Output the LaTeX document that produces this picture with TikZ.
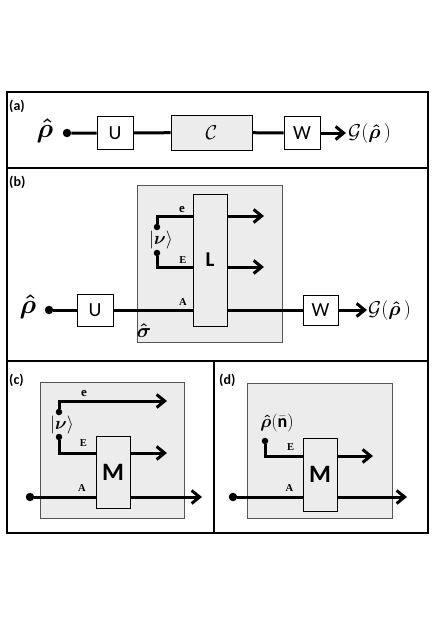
\documentclass[tikz,border=0pt]{standalone}
\usepackage{fix-cm}
\usepackage{amsmath}
\usepackage{fontspec}
\setmainfont{Carlito}
\newfontfamily\serifbf{Liberation Serif}
\usetikzlibrary{positioning,arrows.meta}
\definecolor{boxGray}{RGB}{236,236,236}
\definecolor{edgeGray}{RGB}{85,85,85}

\begin{document}
\begin{tikzpicture}[x=1pt,y=-1pt]
  	\tikzstyle{gatebox} = [draw,line width=0.9pt,fill=white,inner sep=0pt,minimum width=36pt,minimum height=33pt,font=\fontsize{20}{20}\selectfont]
  	\tikzstyle{chanbox} = [draw=edgeGray,line width=0.8pt,fill=boxGray,inner sep=0pt]
  	\tikzstyle{tallbox} = [gatebox,fill=boxGray,minimum width=34pt,font=\bfseries\fontsize{25}{25}\selectfont]
  	\tikzstyle{wireline} = [line width=3pt]
  	\tikzstyle{srcdot} = [circle,fill=black,inner sep=0pt,minimum size=8.5pt]
  	\tikzstyle{nudot} = [srcdot,minimum size=6.5pt]
  	\tikzstyle{lbl} = [inner sep=0pt,font=\serifbf\bfseries\fontsize{10.5}{10.5}\selectfont]
  	\tikzstyle{panellbl} = [anchor=west,inner sep=0pt,font=\bfseries\fontsize{14}{14}\selectfont]
  	\tikzstyle{bigmath} = [inner sep=0pt,font=\fontsize{27}{27}\selectfont]
  	\tikzstyle{outmath} = [anchor=west,inner sep=0pt,font=\fontsize{20}{20}\selectfont]
  	\tikzstyle{ketmath} = [inner sep=0pt,font=\fontsize{18}{18}\selectfont]
  	\tikzset{>={Straight Barb[length=8pt,width=13pt]}}

	  \useasboundingbox (0,0) rectangle (436,627);

	  % frame and panel borders
	  \draw[line width=2.2pt] (7,92) rectangle (428,533);
	  \draw[line width=2.2pt] (7,168) -- (428,168);
	  \draw[line width=2.2pt] (7,361) -- (428,361);
	  \draw[line width=1.3pt] (214,361) -- (214,533);

	  % (a)
	  \node [panellbl] (labA) at (9,106) {(a)};
	  \node [bigmath] (rhoA) at (45,131) {$\boldsymbol{\hat{\rho}}$};
	  \node [srcdot] (srcA) at (67,133) {};
	  \node [gatebox] (uA) at (115,133) {U};
	  \node [gatebox, fill=boxGray, minimum width=81pt, minimum height=35pt] (cA) at (211.5,132.5) {$\mathcal{C}$};
	  \node [gatebox] (wA) at (302,133) {W};
	  \coordinate (outA) at (346,133);
	  \node [outmath, right=2pt of outA] (gA) {$\mathcal{G}(\boldsymbol{\hat{\rho}}\,)$};

		\draw [wireline] (srcA) -- (uA) -- (cA) -- (wA);
		\draw [wireline,->] (wA) -- (outA);

	  % (b)
	  \node [panellbl] (labB) at (9,182) {(b)};
	  \node [chanbox, minimum width=145pt, minimum height=157pt] (chanB) at (209.5,263.5) {};
	  \node [tallbox, minimum height=132pt, font=\bfseries\fontsize{21}{21}\selectfont] (lB) at (210,260) {L};
	  \node [bigmath] (rhoB) at (28,307) {$\boldsymbol{\hat{\rho}}$};
	  \node [srcdot] (srcB) at (49,310) {};
	  \node [gatebox, minimum height=32pt] (uB) at (95,310) {U};
	  \node [gatebox, minimum width=35pt, minimum height=30pt] (wB) at (320.5,310) {W};
	  \coordinate (outB) at (367,310);
	  \node [outmath, right=1pt of outB] (gB) {$\mathcal{G}(\boldsymbol{\hat{\rho}}\,)$};
	  \node [nudot] (nuTopB) at (157,227) {};
	  \node [nudot] (nuBotB) at (157,253) {};
	  \node [ketmath] (ketB) at (161,240) {$|\boldsymbol{\nu}\rangle$};
	  \node [inner sep=0pt, font=\fontsize{20}{20}\selectfont] (sigB) at (144,331) {$\boldsymbol{\hat{\sigma}}$};
	  \coordinate (eInB) at (193,216);
	  \coordinate (EInB) at (193,267);
	  \coordinate (AInB) at (193,310);
	  \coordinate (eOutB) at (264,216);
	  \coordinate (EOutB) at (264,267);
	  \node [lbl, font=\serifbf\bfseries\fontsize{13}{13}\selectfont] (eLabB) at (182,209) {e};
	  \node [lbl] (ELabB) at (183,260) {E};
	  \node [lbl] (ALabB) at (183,302) {A};

		\draw [wireline] (nuTopB) |- (eInB);
		\draw [wireline] (nuBotB) |- (EInB);
		\draw [wireline,->] (lB.east |- eOutB) -- (eOutB);
		\draw [wireline,->] (lB.east |- EOutB) -- (EOutB);
		\draw [wireline] (srcB) -- (uB) -- (AInB);
		\draw [wireline] (lB.east |- wB) -- (wB);
		\draw [wireline,->] (wB) -- (outB);

	  % (c)
	  \node [panellbl] (labC) at (9,380) {(c)};
	  \node [chanbox, minimum width=144pt, minimum height=136pt] (chanC) at (112,450) {};
	  \node [tallbox, minimum height=72pt] (mC) at (113,472) {M};
	  \node [nudot] (nuTopC) at (59,412) {};
	  \node [nudot] (nuBotC) at (59,437) {};
	  \node [ketmath] (ketC) at (62,425) {$|\boldsymbol{\nu}\rangle$};
	  \node [srcdot] (srcC) at (30,497) {};
	  \coordinate (eOutC) at (167,401);
	  \coordinate (EInC) at (96,453);
	  \coordinate (EOutC) at (167,453);
	  \coordinate (AInC) at (96,497);
	  \coordinate (AOutC) at (202,497);
	  \node [lbl, font=\serifbf\bfseries\fontsize{13}{13}\selectfont] (eLabC) at (84,393) {e};
	  \node [lbl] (ELabC) at (83.5,443.5) {E};
	  \node [lbl] (ALabC) at (82,488.5) {A};

		\draw [wireline,->] (nuTopC) |- (eOutC);
		\draw [wireline] (nuBotC) |- (EInC);
		\draw [wireline,->] (mC.east |- EOutC) -- (EOutC);
		\draw [wireline] (srcC) -- (AInC);
		\draw [wireline,->] (mC.east |- AOutC) -- (AOutC);

	  % (d)
	  \node [panellbl] (labD) at (219,380) {(d)};
	  \node [chanbox, minimum width=145pt, minimum height=135pt] (chanD) at (319.5,450.5) {};
	  \node [tallbox, minimum height=73pt] (mD) at (320,474.5) {M};
	  \node [nudot] (rhoDotD) at (265,441) {};
	  \node [ketmath] (rhoD) at (277,423) {$\boldsymbol{\hat{\rho}}(\bar{\mathbf{n}})$};
	  \node [srcdot] (srcD) at (233,497) {};
	  \coordinate (EInD) at (303,456);
	  \coordinate (EOutD) at (373,456);
	  \coordinate (AInD) at (303,497);
	  \coordinate (AOutD) at (407,497);
	  \node [lbl] (ELabD) at (290.5,447.5) {E};
	  \node [lbl] (ALabD) at (289.5,488.5) {A};

		\draw [wireline] (rhoDotD) |- (EInD);
		\draw [wireline,->] (mD.east |- EOutD) -- (EOutD);
		\draw [wireline] (srcD) -- (AInD);
		\draw [wireline,->] (mD.east |- AOutD) -- (AOutD);
  \end{tikzpicture}
\end{document}
